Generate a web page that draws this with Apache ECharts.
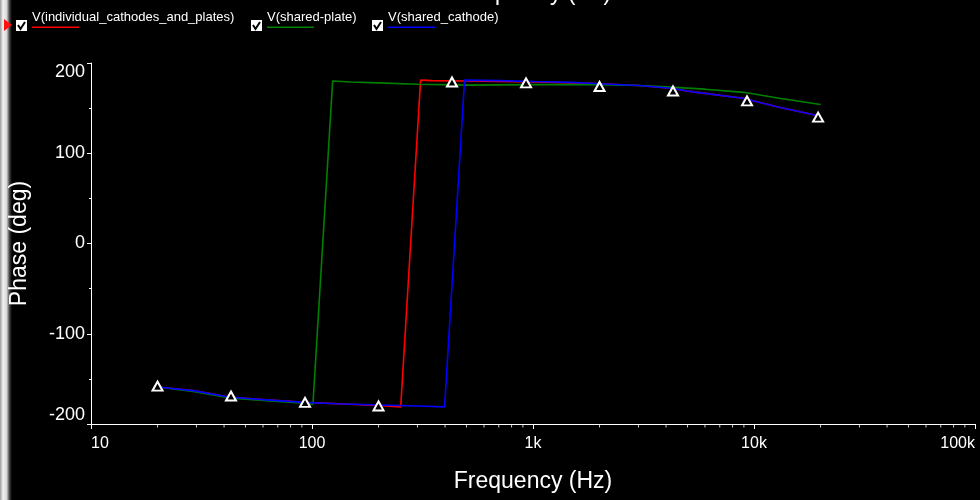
<!DOCTYPE html>
<html><head><meta charset="utf-8">
<script src="https://cdn.jsdelivr.net/npm/echarts@6/dist/echarts.min.js"></script>
<style>html,body{margin:0;padding:0;background:#000}#c{width:980px;height:500px}</style>
</head><body><div id="c"></div>
<script>
// ---- data ----
const seriesNames = ['V(individual_cathodes_and_plates)', 'V(shared-plate)', 'V(shared_cathode)'];
const seriesColors = ['#ff0000', '#008000', '#0000ff'];

const redFreq  = [20, 29, 42, 60, 92, 130, 200, 252, 310, 350, 500, 700, 1000, 1500, 2000, 3000, 4200, 5300, 8900, 13000, 20000];
const redPhase = [-159, -163, -170, -173, -176, -177.5, -179.5, -181, 181, 180.5, 180, 179.5, 179, 178, 177, 175, 172, 168, 161, 151, 141];

const greenFreq  = [20, 29, 42, 60, 92, 101, 124, 150, 200, 300, 500, 1000, 2000, 3000, 4000, 6000, 9000, 13000, 20000];
const greenPhase = [-159, -164, -171, -174, -177, -178, 180, 179, 178, 176.5, 175.5, 176, 176, 175, 173.5, 171, 167.5, 161, 154];

const blueFreq  = [20, 29, 42, 60, 92, 130, 200, 300, 398, 490, 700, 1000, 1500, 2000, 3000, 4200, 5300, 8900, 13000, 20000];
const bluePhase = [-159, -163, -170, -173, -176, -177.5, -179, -180, -181, 181, 180.5, 179.5, 178.5, 177, 175, 172, 168, 161, 151, 141];

const markerFreq  = [20, 43, 93, 200, 430, 930, 2000, 4300, 9300, 19500];
const markerPhase = [-158, -169, -176, -180, 179, 178, 174, 169, 158, 140];

const minorTickFreq = [20,30,40,50,60,70,80,90, 200,300,400,500,600,700,800,900,
  2000,3000,4000,5000,6000,7000,8000,9000, 20000,30000,40000,50000,60000,70000,80000,90000];
const xTickLabels = {10: '10', 100: '100', 1000: '1k', 10000: '10k', 100000: '100k'};
const xName = 'Frequency (Hz)';
const yName = 'Phase (deg)';

// ---- build ----
const pairs = (f, v) => f.map((x, i) => [x, v[i]]);
const traces = [pairs(redFreq, redPhase), pairs(greenFreq, greenPhase), pairs(blueFreq, bluePhase)];
const FONT = '"Liberation Sans", Arial, sans-serif';

const lineSeries = traces.map((d, i) => ({
  type: 'line', name: seriesNames[i], data: d, showSymbol: false, symbol: 'none',
  lineStyle: {color: seriesColors[i], width: 1.6}, itemStyle: {color: seriesColors[i]},
  animation: false, z: 2 + i
}));

const legendX = [16, 251, 372];
const legendGraphics = [];
seriesNames.forEach((n, i) => {
  const x = legendX[i];
  legendGraphics.push({type: 'rect', z: 100, shape: {x: x, y: 20, width: 11, height: 11}, style: {fill: '#fff'}});
  legendGraphics.push({type: 'polyline', z: 101, shape: {points: [[x + 2, 25], [x + 4.5, 29], [x + 9, 22]]}, style: {stroke: '#000', lineWidth: 2, fill: null}});
  legendGraphics.push({type: 'text', z: 100, x: x + 16, y: 17, style: {text: n, fill: '#fff', font: '13px ' + FONT, verticalAlign: 'middle'}});
  legendGraphics.push({type: 'rect', z: 100, shape: {x: x + 16, y: 26.5, width: 47, height: 1.5}, style: {fill: seriesColors[i], stroke: null}});
});

const chart = echarts.init(document.getElementById('c'), null, {renderer: 'canvas'});
chart.setOption({
  backgroundColor: '#000',
  animation: false,
  grid: {left: 88, right: 5, top: 63, bottom: 76, containLabel: false},
  xAxis: {
    type: 'log', logBase: 10, min: 10, max: 100000,
    name: xName, nameLocation: 'middle', nameGap: 46,
    nameTextStyle: {color: '#fff', fontSize: 23, fontFamily: FONT},
    axisLine: {show: true, onZero: false, lineStyle: {color: '#fff', width: 1}},
    axisTick: {show: true, length: 5, lineStyle: {color: '#fff'}},
    minorTick: {show: false},
    splitLine: {show: false},
    axisLabel: {color: '#fff', fontSize: 16, fontFamily: FONT, margin: 12,
      alignMinLabel: 'left', alignMaxLabel: 'right',
      formatter: v => xTickLabels[Math.round(v)] || ''}
  },
  yAxis: {
    type: 'value', min: -200, max: 200, interval: 100,
    name: yName, nameLocation: 'middle', nameGap: 60, nameRotate: 90,
    nameTextStyle: {color: '#fff', fontSize: 23, fontFamily: FONT},
    axisLine: {show: true, onZero: false, lineStyle: {color: '#fff', width: 1}},
    axisTick: {show: true, length: 4, lineStyle: {color: '#fff'}},
    minorTick: {show: true, splitNumber: 2, length: 2, lineStyle: {color: '#fff'}},
    splitLine: {show: false},
    axisLabel: {color: '#fff', fontSize: 18, fontFamily: FONT, margin: 6,
      verticalAlignMinLabel: 'bottom', verticalAlignMaxLabel: 'top'}
  },
  series: lineSeries.concat([
    {type: 'scatter', data: pairs(markerFreq, markerPhase), symbol: 'triangle', symbolSize: [10, 9],
      itemStyle: {color: '#000', borderColor: '#ffffff', borderWidth: 2, opacity: 1}, z: 10, silent: true, clip: false},
    {type: 'scatter', data: minorTickFreq.map(f => [f, -200]), symbol: 'rect', symbolSize: [1, 3],
      symbolOffset: [0, 2], itemStyle: {color: '#fff'}, z: 10, silent: true, clip: false}
  ]),
  graphic: [
    {type: 'rect', shape: {x: 0, y: 0, width: 12, height: 500},
      style: {fill: new echarts.graphic.LinearGradient(0, 0, 1, 0, [
        {offset: 0, color: '#9a9a9a'}, {offset: 0.25, color: '#f2f2f2'}, {offset: 0.55, color: '#d8d8d8'},
        {offset: 0.8, color: '#404040'}, {offset: 1, color: '#000'}])}},
    {type: 'polygon', shape: {points: [[4, 19], [12, 25], [4, 31]]}, style: {fill: '#ff1010'}},
    {type: 'text', x: 532, y: 5, style: {text: xName, fill: '#fff', font: '23px ' + FONT, align: 'center', verticalAlign: 'bottom'}}
  ].concat(legendGraphics)
});
</script>
</body></html>
